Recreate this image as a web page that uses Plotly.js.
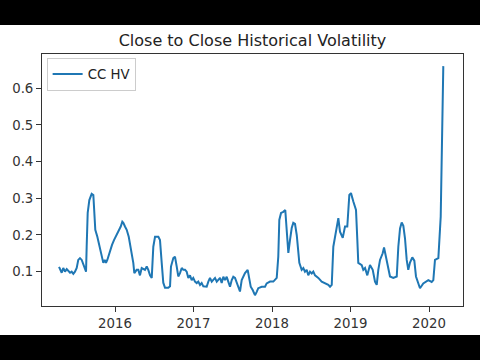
<!DOCTYPE html>
<html>
<head>
<meta charset="utf-8">
<script src="https://cdn.plot.ly/plotly-3.0.1.min.js"></script>
<style>
  html, body { margin: 0; padding: 0; background: #000; width: 480px; height: 360px; overflow: hidden; }
  #chart { position: absolute; left: 0; top: 25px; width: 480px; height: 310px; background: #fff; }
</style>
</head>
<body>
<div id="chart"></div>
<script>
// Decimal-year dates of the series
const dates = [
  2015.287, 2015.299, 2015.321, 2015.341, 2015.363, 2015.385, 2015.405, 2015.427, 2015.448, 2015.469,
  2015.490, 2015.512, 2015.532, 2015.554, 2015.576, 2015.596, 2015.618, 2015.631, 2015.639, 2015.652,
  2015.673, 2015.703, 2015.724, 2015.736, 2015.749, 2015.775, 2015.800, 2015.818, 2015.838, 2015.851,
  2015.869, 2015.885, 2015.902, 2015.920, 2015.936, 2015.962, 2015.987, 2016.009, 2016.029, 2016.047,
  2016.073, 2016.093, 2016.106, 2016.127, 2016.149, 2016.175, 2016.191, 2016.213, 2016.233, 2016.246,
  2016.255, 2016.276, 2016.297, 2016.318, 2016.340, 2016.382, 2016.404, 2016.424, 2016.446, 2016.468,
  2016.488, 2016.510, 2016.552, 2016.573, 2016.595, 2016.615, 2016.637, 2016.679, 2016.701, 2016.713,
  2016.743, 2016.764, 2016.786, 2016.806, 2016.828, 2016.850, 2016.870, 2016.892, 2016.913, 2016.934,
  2016.955, 2016.977, 2016.997, 2017.019, 2017.041, 2017.061, 2017.083, 2017.104, 2017.125, 2017.168,
  2017.189, 2017.210, 2017.232, 2017.274, 2017.296, 2017.338, 2017.359, 2017.380, 2017.401, 2017.423,
  2017.443, 2017.465, 2017.487, 2017.507, 2017.529, 2017.550, 2017.571, 2017.592, 2017.614, 2017.634,
  2017.656, 2017.690, 2017.711, 2017.729, 2017.754, 2017.783, 2017.805, 2017.825, 2017.869, 2017.911,
  2017.932, 2017.975, 2018.017, 2018.060, 2018.080, 2018.093, 2018.115, 2018.144, 2018.169, 2018.187,
  2018.208, 2018.229, 2018.251, 2018.271, 2018.293, 2018.315, 2018.348, 2018.378, 2018.399, 2018.420,
  2018.442, 2018.462, 2018.484, 2018.506, 2018.526, 2018.548, 2018.590, 2018.633, 2018.675, 2018.717,
  2018.739, 2018.761, 2018.781, 2018.803, 2018.824, 2018.845, 2018.866, 2018.888, 2018.901, 2018.930,
  2018.959, 2018.985, 2019.006, 2019.036, 2019.070, 2019.087, 2019.099, 2019.143, 2019.163, 2019.185,
  2019.214, 2019.248, 2019.283, 2019.312, 2019.334, 2019.354, 2019.376, 2019.410, 2019.427, 2019.452,
  2019.469, 2019.503, 2019.545, 2019.589, 2019.609, 2019.631, 2019.652, 2019.673, 2019.694, 2019.716,
  2019.736, 2019.758, 2019.787, 2019.813, 2019.834, 2019.864, 2019.885, 2019.927, 2019.991, 2020.034,
  2020.055, 2020.076, 2020.119, 2020.149, 2020.175, 2020.182
];

// Close-to-close historical volatility values
const ccHV = [
  0.113, 0.105, 0.097, 0.110, 0.100, 0.107, 0.103, 0.097, 0.100, 0.094,
  0.100, 0.110, 0.132, 0.137, 0.132, 0.118, 0.105, 0.100, 0.168, 0.260,
  0.295, 0.312, 0.309, 0.250, 0.214, 0.195, 0.173, 0.160, 0.137, 0.124,
  0.132, 0.124, 0.132, 0.145, 0.160, 0.173, 0.186, 0.195, 0.205, 0.214,
  0.223, 0.236, 0.233, 0.223, 0.214, 0.195, 0.178, 0.155, 0.124, 0.096,
  0.100, 0.105, 0.105, 0.090, 0.110, 0.105, 0.114, 0.105, 0.090, 0.083,
  0.168, 0.195, 0.195, 0.186, 0.124, 0.070, 0.056, 0.056, 0.060, 0.114,
  0.137, 0.141, 0.114, 0.087, 0.096, 0.110, 0.105, 0.105, 0.100, 0.083,
  0.090, 0.077, 0.083, 0.073, 0.069, 0.073, 0.064, 0.069, 0.060, 0.059,
  0.073, 0.083, 0.073, 0.083, 0.073, 0.083, 0.069, 0.086, 0.077, 0.086,
  0.073, 0.059, 0.077, 0.086, 0.083, 0.069, 0.059, 0.046, 0.077, 0.086,
  0.096, 0.105, 0.077, 0.059, 0.050, 0.036, 0.045, 0.055, 0.059, 0.059,
  0.068, 0.073, 0.073, 0.083, 0.141, 0.241, 0.260, 0.263, 0.268, 0.223,
  0.151, 0.186, 0.219, 0.233, 0.230, 0.200, 0.124, 0.105, 0.110, 0.100,
  0.105, 0.090, 0.100, 0.095, 0.100, 0.090, 0.083, 0.073, 0.068, 0.064,
  0.059, 0.064, 0.168, 0.195, 0.220, 0.246, 0.209, 0.200, 0.192, 0.223,
  0.223, 0.309, 0.314, 0.291, 0.268, 0.186, 0.124, 0.118, 0.105, 0.110,
  0.090, 0.118, 0.105, 0.073, 0.064, 0.105, 0.132, 0.150, 0.166, 0.140,
  0.123, 0.087, 0.083, 0.087, 0.168, 0.218, 0.234, 0.225, 0.191, 0.132,
  0.105, 0.125, 0.139, 0.130, 0.087, 0.064, 0.055, 0.068, 0.077, 0.072,
  0.077, 0.132, 0.137, 0.250, 0.550, 0.660
];

const seriesName = "CC HV";
const chartTitle = "Close to Close Historical Volatility";
const xTickVals = [2016, 2017, 2018, 2019, 2020];
const xTickText = ["2016", "2017", "2018", "2019", "2020"];
const yTickVals = [0.1, 0.2, 0.3, 0.4, 0.5, 0.6];
const yTickText = ["0.1", "0.2", "0.3", "0.4", "0.5", "0.6"];

const font = "DejaVu Sans, sans-serif";

Plotly.newPlot("chart", [{
  x: dates,
  y: ccHV,
  type: "scatter",
  mode: "lines",
  name: seriesName,
  line: { color: "#1f77b4", width: 2 }
}], {
  width: 480,
  height: 310,
  margin: { l: 42, r: 17, t: 29, b: 29 },
  paper_bgcolor: "#ffffff",
  plot_bgcolor: "#ffffff",
  showlegend: true,
  title: {
    text: chartTitle,
    font: { family: font, size: 16, color: "#222" },
    x: 0.526, xanchor: "center",
    y: 1 - 15 / 310, yanchor: "middle"
  },
  xaxis: {
    range: [2015.07, 2020.433],
    tickvals: xTickVals,
    ticktext: xTickText,
    ticks: "outside", ticklen: 5, tickwidth: 1, tickcolor: "#333",
    showline: true, linecolor: "#333", linewidth: 1, mirror: true,
    showgrid: false, zeroline: false,
    tickfont: { family: font, size: 13.3, color: "#333" }
  },
  yaxis: {
    range: [0.0065, 0.693],
    tickvals: yTickVals,
    ticktext: yTickText,
    ticks: "outside", ticklen: 5, tickwidth: 1, tickcolor: "#333",
    showline: true, linecolor: "#333", linewidth: 1, mirror: true,
    showgrid: false, zeroline: false,
    tickfont: { family: font, size: 13.3, color: "#333" }
  },
  legend: {
    x: 0.011, y: 0.985, xanchor: "left", yanchor: "top",
    bgcolor: "rgba(255,255,255,0.8)",
    bordercolor: "#cccccc", borderwidth: 1,
    font: { family: font, size: 13.3, color: "#222" }
  }
}, { staticPlot: true, displayModeBar: false });
</script>
</body>
</html>
